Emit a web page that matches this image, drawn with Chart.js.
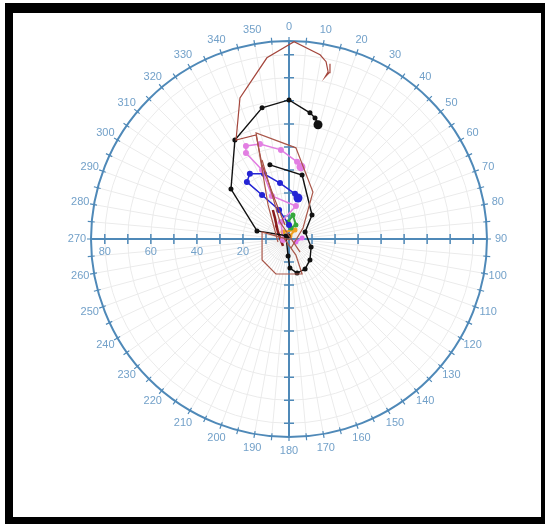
<!DOCTYPE html>
<html>
<head>
<meta charset="utf-8">
<script src="https://cdn.jsdelivr.net/npm/chart.js@4/dist/chart.umd.min.js"></script>
<style>
  html, body { margin: 0; padding: 0; background: #fff; }
  #frame {
    position: absolute; left: 5px; top: 3px; right: 0; bottom: 0;
    border-style: solid; border-color: #000;
    border-width: 10px 4px 7px 8px;
  }
  #chart { position: absolute; left: 0; top: 0; }
</style>
</head>
<body>
<div id="frame"></div>
<canvas id="chart" width="545" height="524"></canvas>
<script>
// hodograph traces, wind components u (east) / v (north) in kt
const rMax = 86
const ringStep = 10
const dirLabels = [0, 10, 20, 30, 40, 50, 60, 70, 80, 90, 100, 110, 120, 130, 140, 150, 160, 170,
  180, 190, 200, 210, 220, 230, 240, 250, 260, 270, 280, 290, 300, 310, 320, 330, 340, 350]
const speedLabels = [20, 40, 60, 80]

const brownLongU = [-1.7, -6.1, -11.7, -14.3, -23.0, -21.3, -9.6, 2.2, 13.5, 16.1, 17.0, 15.7, 17.4, 17.8]
const brownLongV = [6.1, 17.0, 32.2, 45.2, 43.0, 61.3, 78.7, 85.7, 80.0, 77.0, 72.6, 70.4, 72.2, 76.1]

const brownLoopU = [-4.8, -9.1, -14.3, 3.0, 10.4, 6.1, 0.9]
const brownLoopV = [-1.3, 14.8, 46.1, 39.6, 20.4, 4.8, -3.9]

const brownLowU = [0.4, -11.7, -11.7, -5.7, 5.7, 3.0, -2.2]
const brownLowV = [-0.4, 3.0, -9.1, -15.2, -15.2, -7.0, 0.4]

const brownDiagU = [-11.7, -3.9, 4.8]
const brownDiagV = [34.3, 7.4, -5.7]

const blackSpiralU = [-0.4, -13.9, -25.2, -23.5, -11.7, 0, 9.1, 11.3, 12.2, 12.6]
const blackSpiralV = [1.3, 3.5, 21.7, 43.0, 57.0, 60.4, 54.8, 52.6, 50.4, 49.6]

const blackLoopU = [-1.3, -0.4, 0.4, 3.5, 7.0, 9.1, 9.6, 7.0, 10.0, 5.7, -8.3]
const blackLoopV = [1.3, -7.4, -12.6, -14.8, -13.0, -9.1, -3.5, 3.0, 10.4, 27.8, 32.2]

const violetU = [-2.6, -3.5, 3.0, -7.4, -11.7, -18.7, -18.7, -12.6, -3.5, 3.5, 5.2]
const violetV = [-0.4, 7.4, 14.3, 18.7, 30.0, 37.4, 40.4, 41.3, 38.7, 33.5, 31.3]

const blueU = [0, -4.3, -11.7, -18.3, -17.0, -10.9, -3.9, 2.6, 3.9]
const blueV = [6.1, 12.6, 19.1, 24.8, 28.3, 28.3, 24.3, 19.6, 17.8]

const maroonU = [-7.0, -6.1, -4.8, -2.6, -3.9, -5.7]
const maroonV = [12.6, 9.1, 3.0, -3.0, 0.4, 6.1]

const greenU = [-0.4, 1.7, 3.0, 0.9]
const greenV = [7.4, 10.4, 6.1, 4.8]

const orangeU = [-2.6, 2.6, 0.4]
const orangeV = [3.0, 3.9, 1.3]

const pinkU = [3.0, 5.7]
const pinkV = [-1.3, 0.4]

function pts(u, v) {
  return u.map((val, i) => ({x: val, y: v[i]}))
}

// dot: point radius, endDot: radius of the last (top level) point
function trace(u, v, color, width, dot, endDot) {
  return {
    data: pts(u, v),
    showLine: true,
    borderColor: color,
    backgroundColor: color,
    borderWidth: width,
    pointRadius: ctx => ctx.dataIndex === u.length - 1 ? endDot : dot,
    pointBorderWidth: 0,
    tension: 0
  }
}

const polarGrid = {
  id: 'polarGrid',
  beforeDatasetsDraw(chart) {
    const {ctx, scales: {x, y}} = chart
    const cx = x.getPixelForValue(0)
    const cy = y.getPixelForValue(0)
    const unit = x.getPixelForValue(1) - cx
    const R = rMax * unit
    const axisColor = '#4f89b8'
    const textColor = '#73a1c9'

    ctx.save()
    // light grid
    ctx.strokeStyle = '#ebebeb'
    ctx.lineWidth = 1
    ctx.beginPath()
    for (let r = ringStep; r < rMax; r += ringStep) {
      ctx.moveTo(cx + r * unit, cy)
      ctx.arc(cx, cy, r * unit, 0, Math.PI * 2)
    }
    for (let a = 0; a < 360; a += 5) {
      const t = a * Math.PI / 180
      ctx.moveTo(cx, cy)
      ctx.lineTo(cx + R * Math.sin(t), cy - R * Math.cos(t))
    }
    ctx.stroke()

    // axes
    ctx.strokeStyle = axisColor
    ctx.lineWidth = 2
    ctx.beginPath()
    ctx.arc(cx, cy, R, 0, Math.PI * 2)
    ctx.moveTo(cx - R, cy)
    ctx.lineTo(cx + R, cy)
    ctx.moveTo(cx, cy - R)
    ctx.lineTo(cx, cy + R)
    ctx.stroke()

    // ticks on the axes
    ctx.lineWidth = 1.5
    ctx.beginPath()
    for (let r = ringStep; r < rMax; r += ringStep) {
      const d = r * unit
      ctx.moveTo(cx - d, cy - 5); ctx.lineTo(cx - d, cy + 5)
      ctx.moveTo(cx + d, cy - 5); ctx.lineTo(cx + d, cy + 5)
      ctx.moveTo(cx - 5, cy - d); ctx.lineTo(cx + 5, cy - d)
      ctx.moveTo(cx - 5, cy + d); ctx.lineTo(cx + 5, cy + d)
    }
    ctx.stroke()
    // ticks on the outer ring
    ctx.lineWidth = 1.2
    ctx.beginPath()
    for (let a = 0; a < 360; a += 5) {
      const t = a * Math.PI / 180
      const s = Math.sin(t), c = Math.cos(t)
      ctx.moveTo(cx + (R - 3) * s, cy - (R - 3) * c)
      ctx.lineTo(cx + (R + 4) * s, cy - (R + 4) * c)
    }
    ctx.stroke()

    // labels
    ctx.fillStyle = textColor
    ctx.font = '11px "Liberation Sans", Arial, sans-serif'
    ctx.textAlign = 'center'
    ctx.textBaseline = 'middle'
    dirLabels.forEach(a => {
      const t = a * Math.PI / 180
      const rl = R + 14
      ctx.fillText(String(a), cx + rl * Math.sin(t), cy - rl * Math.cos(t))
    })
    speedLabels.forEach(v => {
      ctx.fillText(String(v), cx - v * unit, cy + 13)
    })
    ctx.restore()
  }
}

new Chart(document.getElementById('chart'), {
  type: 'scatter',
  data: {
    datasets: [
      trace(brownLoopU, brownLoopV, '#a9574a', 1.2, 0, 0),
      trace(brownLowU, brownLowV, '#a9574a', 1.2, 0, 0),
      trace(brownDiagU, brownDiagV, '#a9574a', 1.2, 0, 0),
      trace(brownLongU, brownLongV, '#a4463c', 1.2, 0, 0),
      trace(blackSpiralU, blackSpiralV, '#111111', 1.4, 2.5, 4.5),
      trace(blackLoopU, blackLoopV, '#111111', 1.4, 2.5, 2.5),
      trace(violetU, violetV, '#e27ee2', 1.5, 3, 4.5),
      trace(blueU, blueV, '#2424d4', 1.5, 3, 4.5),
      trace(maroonU, maroonV, '#8a1c1c', 2.5, 0, 0),
      trace(greenU, greenV, '#35a83a', 2, 2.5, 2.5),
      trace(orangeU, orangeV, '#f0a020', 2, 2.5, 2.5),
      trace(pinkU, pinkV, '#e070f0', 2, 2.5, 2.5)
    ]
  },
  options: {
    responsive: false,
    animation: false,
    layout: {padding: {left: 91, right: 58, top: 41, bottom: 87}},
    plugins: {legend: {display: false}, tooltip: {enabled: false}},
    scales: {
      x: {type: 'linear', display: false, min: -rMax, max: rMax},
      y: {type: 'linear', display: false, min: -rMax, max: rMax}
    }
  },
  plugins: [polarGrid]
})
</script>
</body>
</html>
